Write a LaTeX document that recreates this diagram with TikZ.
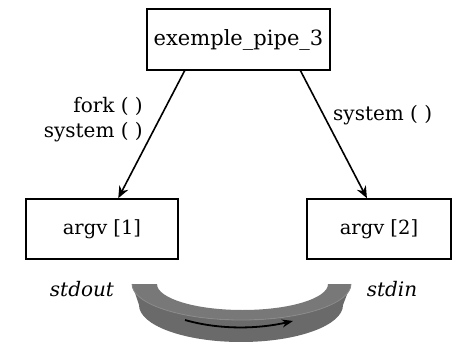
\documentclass[tikz,border=0pt]{standalone}
\usepackage{fontspec}
\setmainfont{DejaVu Serif}[ItalicFont={DejaVu Serif Italic}]
\usetikzlibrary{arrows.meta,calc}
\definecolor{pipewall}{HTML}{6A6A6A}
\definecolor{pipetop}{HTML}{787878}
\definecolor{piperim}{HTML}{8A8A8A}
\tikzset{
  box/.style={draw, line width=1.6pt, inner sep=0pt},
  call/.style={-{Stealth[length=12pt,width=10pt]}, line width=1.6pt},
  lbl/.style={font=\fontsize{20}{25}\selectfont, inner sep=0pt},
  stream/.style={font=\fontsize{20}{22}\selectfont\itshape, inner sep=0pt},
}
\begin{document}
\begin{tikzpicture}[x=1pt,y=-1pt]
\useasboundingbox (0,0) rectangle (452,342);
\clip (0,0) rectangle (452,342);

% processes
\node[box, minimum width=183pt, minimum height=61pt, font=\fontsize{21}{24}\selectfont]
  (main) at (238.5,39.5) {exemple\_pipe\_3};
\node[box, minimum width=152pt, minimum height=60pt, font=\fontsize{19.5}{22}\selectfont]
  (a1) at (102,229) {argv [1]};
\node[box, minimum width=144pt, minimum height=60pt, font=\fontsize{19.5}{22}\selectfont]
  (a2) at (379,229) {argv [2]};

% launching calls
\draw[call] ($(main.south west)!0.208!(main.south east)$) -- ($(a1.north west)!0.606!(a1.north east)$);
\draw[call] ($(main.south west)!0.836!(main.south east)$) -- ($(a2.north west)!0.417!(a2.north east)$);

\node[lbl, align=right, anchor=east] (lfork) at (143,120) {fork ( )\\system ( )};
\node[lbl, anchor=west] (lsys) at (333,115) {system ( )};

% pipe between the two processes
\fill[pipewall] (132,284) -- (139,305)
  arc[start angle=180, end angle=0, x radius=102, y radius=37]
  -- (351,284)
  arc[start angle=0, end angle=180, x radius=109.5, y radius=36] -- cycle;
\fill[pipetop] (132,284)
  arc[start angle=180, end angle=0, x radius=109.5, y radius=36]
  -- (328,284)
  arc[start angle=0, end angle=180, x radius=85.5, y radius=26] -- cycle;
\draw[piperim, line width=0.8pt] (132,284)
  arc[start angle=180, end angle=0, x radius=109.5, y radius=36];

\coordinate (flowA) at (185,320);
\coordinate (flowB) at (293,321);
\draw[-{Stealth[length=11pt,width=8pt]}, line width=1.8pt]
  (flowA) .. controls (220,330) and (258,329) .. (flowB);

\node[stream] (out) at (82,289) {stdout};
\node[stream] (in) at (392,289) {stdin};
\end{tikzpicture}
\end{document}
